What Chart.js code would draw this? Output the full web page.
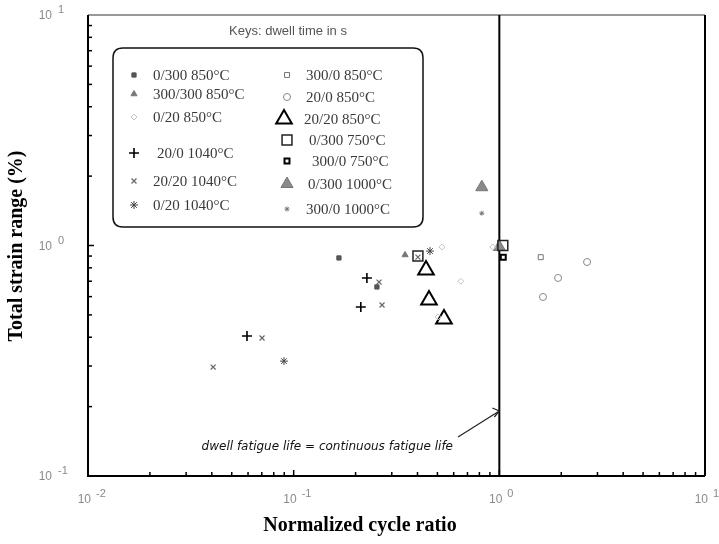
<!DOCTYPE html>
<html><head><meta charset="utf-8">
<script src="https://cdn.jsdelivr.net/npm/chart.js@4/dist/chart.umd.min.js"></script>
<style>html,body{margin:0;padding:0;background:#fff}#wrap{width:719px;height:544px;position:relative}</style>
</head><body><div id="wrap"><canvas id="c" width="719" height="544"></canvas></div>
<script>
// ---- data (normalized cycle ratio, total strain range %) ----
const seriesLabels = ['0/300 850°C','300/300 850°C','0/20 850°C','20/0 1040°C','20/20 1040°C','0/20 1040°C',
  '300/0 850°C','20/0 850°C','20/20 850°C','0/300 750°C','300/0 750°C','0/300 1000°C','300/0 1000°C'];
const x_0_300_850 = [0.166, 0.254];        const y_0_300_850 = [0.883, 0.661];
const x_300_300_850 = [0.348];             const y_300_300_850 = [0.91];
const x_0_20_850 = [0.526, 0.504, 0.65, 0.93]; const y_0_20_850 = [0.985, 0.49, 0.70, 0.985];
const x_20_0_1040 = [0.227, 0.212, 0.0593]; const y_20_0_1040 = [0.723, 0.541, 0.405];
const x_20_20_1040 = [0.26, 0.269, 0.0702, 0.0406, 0.402]; const y_20_20_1040 = [0.694, 0.552, 0.397, 0.297, 0.89];
const x_0_20_1040 = [0.46, 0.0897];        const y_0_20_1040 = [0.946, 0.315];
const x_300_0_850 = [1.59];                const y_300_0_850 = [0.89];
const x_20_0_850 = [2.67, 1.93, 1.63];     const y_20_0_850 = [0.848, 0.723, 0.598];
const x_20_20_850 = [0.44, 0.455, 0.538];  const y_20_20_850 = [0.783, 0.58, 0.48];
const x_0_300_750 = [0.402, 1.04];         const y_0_300_750 = [0.90, 1.0];
const x_300_0_750 = [1.045];               const y_300_0_750 = [0.89];
const x_0_300_1000 = [0.822, 1.0];         const y_0_300_1000 = [1.79, 0.985];
const x_300_0_1000 = [0.822];              const y_300_0_1000 = [1.38];
const xTickValues = [0.01, 0.1, 1, 10];    const xTickExp = ['-2','-1','0','1'];
const yTickValues = [0.1, 1, 10];          const yTickExp = ['-1','0','1'];
const annotationText = 'dwell fatigue life = continuous fatigue life';
const legendTitle = 'Keys: dwell time in s';

const xs = [x_0_300_850,x_300_300_850,x_0_20_850,x_20_0_1040,x_20_20_1040,x_0_20_1040,x_300_0_850,x_20_0_850,x_20_20_850,x_0_300_750,x_300_0_750,x_0_300_1000,x_300_0_1000];
const ys = [y_0_300_850,y_300_300_850,y_0_20_850,y_20_0_1040,y_20_20_1040,y_0_20_1040,y_300_0_850,y_20_0_850,y_20_20_850,y_0_300_750,y_300_0_750,y_0_300_1000,y_300_0_1000];

// styles
const styles = [
  {pointStyle:'rect', radius:3, bg:'#555', bc:'#555', bw:1},
  {pointStyle:'triangle', radius:3.5, bg:'#777', bc:'#777', bw:1},
  {pointStyle:'rectRot', radius:3, bg:'rgba(0,0,0,0)', bc:'#c4c4c4', bw:1},
  {pointStyle:'cross', radius:5, bg:'#000', bc:'#000', bw:1.6},
  {pointStyle:'crossRot', radius:3.5, bg:'#666', bc:'#666', bw:1.2},
  {pointStyle:'star', radius:4, bg:'#444', bc:'#444', bw:1},
  {pointStyle:'rect', radius:3.5, bg:'rgba(0,0,0,0)', bc:'#777', bw:1},
  {pointStyle:'circle', radius:3.5, bg:'rgba(0,0,0,0)', bc:'#888', bw:1},
  {pointStyle:'triangle', radius:9, bg:'rgba(0,0,0,0)', bc:'#000', bw:2},
  {pointStyle:'rect', radius:7, bg:'rgba(0,0,0,0)', bc:'#222', bw:1.5},
  {pointStyle:'rect', radius:3.5, bg:'rgba(0,0,0,0)', bc:'#000', bw:2},
  {pointStyle:'triangle', radius:7, bg:'#8a8a8a', bc:'#777', bw:1},
  {pointStyle:'star', radius:2.5, bg:'#777', bc:'#777', bw:1}
];
// legend layout: [markerX, textX, y]
const legendPos = [
  [134,153,75],[134,153,94],[134,153,117],[134,157,153],[134,153,181],[134,153,205],
  [287,306,75],[287,306,97],[284,304,119],[287,309,140],[287,312,161],[287,308,184],[287,306,209]
];

const datasets = seriesLabels.map((lab,i)=>({
  label: lab,
  data: xs[i].map((x,j)=>({x:x, y:ys[i][j]})),
  pointStyle: styles[i].pointStyle,
  pointRadius: styles[i].radius,
  pointBackgroundColor: styles[i].bg,
  pointBorderColor: styles[i].bc,
  pointBorderWidth: styles[i].bw,
  showLine: false
}));

const frame = {
  id:'frame',
  beforeDatasetsDraw(chart){
    const {ctx, chartArea:a, scales:{x,y}} = chart;
    ctx.save();
    ctx.strokeStyle='#777'; ctx.lineWidth=1.5;
    ctx.beginPath(); ctx.moveTo(a.left,a.top); ctx.lineTo(a.right,a.top); ctx.stroke();
    ctx.strokeStyle='#000'; ctx.lineWidth=2;
    ctx.beginPath(); ctx.moveTo(a.right,a.top); ctx.lineTo(a.right,a.bottom); ctx.stroke();
    ctx.beginPath(); ctx.moveTo(a.left,a.top); ctx.lineTo(a.left,a.bottom); ctx.lineTo(a.right,a.bottom); ctx.stroke();
    ctx.lineWidth=1.5;
    for(let e=-2;e<1;e++){
      for(let m=1;m<10;m++){
        const v=m*Math.pow(10,e); const px=x.getPixelForValue(v);
        const len = m===1?6:4;
        ctx.beginPath(); ctx.moveTo(px,a.bottom); ctx.lineTo(px,a.bottom-len); ctx.stroke();
      }
    }
    for(let e=-1;e<1;e++){
      for(let m=1;m<10;m++){
        const v=m*Math.pow(10,e); const py=y.getPixelForValue(v);
        const len = m===1?6:4;
        ctx.beginPath(); ctx.moveTo(a.left,py); ctx.lineTo(a.left+len,py); ctx.stroke();
      }
    }
    const p1 = x.getPixelForValue(1);
    ctx.lineWidth=2; ctx.strokeStyle='#000';
    ctx.beginPath(); ctx.moveTo(p1,a.top); ctx.lineTo(p1,a.bottom); ctx.stroke();
    ctx.restore();
  },
  afterDraw(chart){
    const {ctx, chartArea:a, scales:{x,y}} = chart;
    ctx.save();
    ctx.fillStyle='#8a8a8a';
    xTickValues.forEach((v,i)=>{
      const px=x.getPixelForValue(v);
      ctx.font='12px "Liberation Sans", Arial, sans-serif';
      ctx.textAlign='right'; ctx.textBaseline='middle';
      ctx.fillText('10', px+3, a.bottom+24);
      ctx.font='11px "Liberation Sans", Arial, sans-serif';
      ctx.textAlign='left';
      ctx.fillText(xTickExp[i], px+8, a.bottom+18);
    });
    yTickValues.forEach((v,i)=>{
      const py=y.getPixelForValue(v);
      ctx.font='12px "Liberation Sans", Arial, sans-serif';
      ctx.textAlign='right'; ctx.textBaseline='middle';
      ctx.fillText('10', a.left-36, py+1);
      ctx.font='11px "Liberation Sans", Arial, sans-serif';
      ctx.textAlign='left';
      ctx.fillText(yTickExp[i], a.left-30, py-5);
    });
    ctx.fillStyle='#000';
    ctx.font='bold 20px "Liberation Serif", "Times New Roman", serif';
    ctx.textAlign='center'; ctx.textBaseline='middle';
    ctx.fillText('Normalized cycle ratio', 360, 526);
    ctx.save(); ctx.translate(17, 246); ctx.rotate(-Math.PI/2);
    ctx.fillText('Total strain range (%)', 0, 0); ctx.restore();
    ctx.font='italic 12px "DejaVu Sans", sans-serif';
    ctx.fillStyle='#111'; ctx.textAlign='right';
    ctx.fillText(annotationText, 453, 447);
    const p1 = x.getPixelForValue(1);
    ctx.strokeStyle='#222'; ctx.lineWidth=1.2;
    ctx.beginPath(); ctx.moveTo(458,437); ctx.lineTo(p1,411); ctx.stroke();
    ctx.beginPath(); ctx.moveTo(p1-7,408); ctx.lineTo(p1,411); ctx.lineTo(p1-5,417); ctx.stroke();
    ctx.font='13px "Liberation Sans", Arial, sans-serif';
    ctx.fillStyle='#555'; ctx.textAlign='center';
    ctx.fillText(legendTitle, 288, 31);
    const bx=113, by=48, bw=310, bh=179, r=10;
    ctx.strokeStyle='#111'; ctx.lineWidth=1.5;
    ctx.beginPath();
    ctx.moveTo(bx+r,by); ctx.lineTo(bx+bw-r,by); ctx.quadraticCurveTo(bx+bw,by,bx+bw,by+r);
    ctx.lineTo(bx+bw,by+bh-r); ctx.quadraticCurveTo(bx+bw,by+bh,bx+bw-r,by+bh);
    ctx.lineTo(bx+r,by+bh); ctx.quadraticCurveTo(bx,by+bh,bx,by+bh-r);
    ctx.lineTo(bx,by+r); ctx.quadraticCurveTo(bx,by,bx+r,by);
    ctx.stroke();
    ctx.font='15px "Liberation Serif", "Times New Roman", serif';
    ctx.textAlign='left'; ctx.textBaseline='middle';
    seriesLabels.forEach((lab,i)=>{
      const [mx,tx,ly]=legendPos[i]; const s=styles[i];
      ctx.fillStyle=s.bg; ctx.strokeStyle=s.bc; ctx.lineWidth=s.bw;
      Chart.helpers.drawPoint(ctx,{pointStyle:s.pointStyle, radius:s.radius, borderWidth:s.bw, rotation:0}, mx, ly);
      ctx.fillStyle='#3a3a3a';
      ctx.fillText(lab, tx, ly+1);
    });
    ctx.restore();
  }
};

new Chart(document.getElementById('c'), {
  type:'scatter',
  data:{datasets},
  options:{
    responsive:false, animation:false, devicePixelRatio:1,
    layout:{padding:{left:88, top:15, right:14, bottom:68}},
    plugins:{legend:{display:false}, tooltip:{enabled:false}},
    scales:{
      x:{type:'logarithmic', min:0.01, max:10, display:false},
      y:{type:'logarithmic', min:0.1, max:10, display:false}
    }
  },
  plugins:[frame]
});
</script></body></html>
